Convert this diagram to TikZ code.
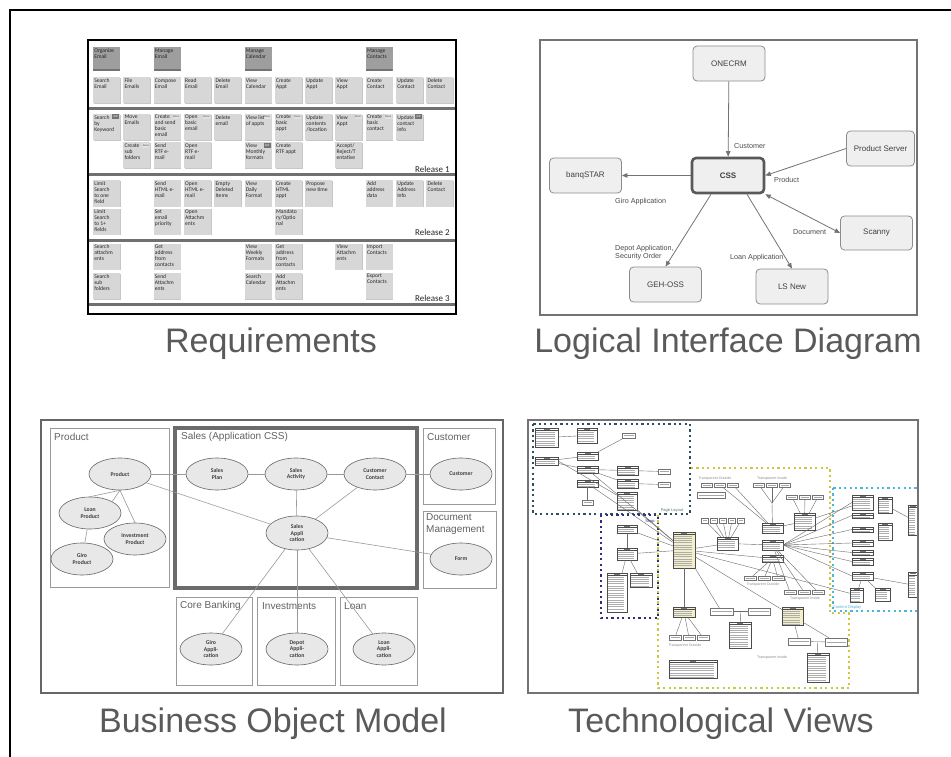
\documentclass[tikz,border=0pt]{standalone}
\usepackage{fontspec}
\setmainfont{Liberation Sans}
\newfontfamily\calib{Carlito}
\usetikzlibrary{arrows.meta,calc,shapes.geometric}

\definecolor{capgray}{HTML}{5A5A5A}
\definecolor{cardfill}{HTML}{D7D7D7}
\definecolor{epicfill}{HTML}{9E9E9E}
\definecolor{sepgray}{HTML}{707070}
\definecolor{boxfill}{HTML}{EFEFEF}
\definecolor{boxline}{HTML}{8C8C8C}
\definecolor{ellfill}{HTML}{E8E8E8}
\definecolor{grpline}{HTML}{9A9A9A}
\definecolor{zoneteal}{HTML}{2F4F5E}
\definecolor{zonenavy}{HTML}{2E2E7E}
\definecolor{zoneolive}{HTML}{C9C83E}
\definecolor{zonesky}{HTML}{4DB4DB}
\definecolor{mainfill}{HTML}{F3EFCB}

\tikzset{
  captxt/.style={font=\fontsize{34}{40}\selectfont, text=capgray, inner sep=0pt, anchor=base},
  card/.style={fill=cardfill, minimum width=27pt, minimum height=26pt, inner sep=0pt,
    preaction={fill=black!22, transform canvas={xshift=0.7pt,yshift=-0.9pt}}},
  epic/.style={fill=epicfill, minimum width=27pt, minimum height=24pt, inner sep=0pt,
    path picture={\fill[black!55] ([yshift=2pt]path picture bounding box.south west) rectangle (path picture bounding box.south east);}},
  cardtxt/.style={anchor=north west, inner sep=1.3pt, align=left, text=black!85,
    font=\calib\fontsize{5.6}{6}\selectfont},
  tagbox/.style={inner sep=0pt, minimum width=7pt, minimum height=4.6pt,
    font=\calib\fontsize{2.8}{3}\selectfont},
  donetag/.style={tagbox, fill=black!12, text=black!70},
  wiptag/.style={tagbox, fill=black!55, text=white},
  sepline/.style={draw=sepgray, line width=3pt},
  reltxt/.style={font=\calib\fontsize{9}{10}\selectfont, text=black!85, inner sep=0pt, anchor=east},
  lbox/.style={draw=boxline, fill=boxfill, rounded corners=4pt, minimum width=72pt,
    minimum height=35pt, line width=0.8pt, font=\fontsize{8}{9}\selectfont, text=black!75},
  cssbox/.style={lbox, draw=black!65, line width=2.6pt, font=\bfseries\fontsize{8}{9}\selectfont},
  larr/.style={draw=black!55, line width=0.8pt, -{Triangle[length=5.5pt,width=4.5pt]}},
  lbl/.style={font=\fontsize{7.2}{8.4}\selectfont, text=black!70, inner sep=0pt, anchor=west, align=left},
  grp/.style={draw=grpline, line width=0.9pt},
  grplbl/.style={font=\fontsize{10}{12}\selectfont, text=black!62, inner sep=0pt, anchor=west, align=left},
  ell/.style={ellipse, draw=black!60, fill=ellfill, minimum width=62pt, minimum height=32pt,
    inner sep=0pt, line width=0.6pt, align=center, text=black!75,
    font=\calib\bfseries\fontsize{5.8}{6.8}\selectfont},
  bline/.style={draw=black!40, line width=0.6pt},
  cls/.style={draw=black!70, fill=white, line width=0.35pt, inner sep=0pt,
    path picture={
      \draw[line width=0.3pt, black!70] ([yshift=-2.3pt]path picture bounding box.north west) -- ([yshift=-2.3pt]path picture bounding box.north east);
      \draw[black!55, line width=0.5pt] ([xshift=-3pt,yshift=-1.15pt]path picture bounding box.north) -- ([xshift=3pt,yshift=-1.15pt]path picture bounding box.north);
      \foreach \k in {0,...,14}
        \draw[black!32, line width=0.45pt] ([xshift=1.3pt,yshift={-3.8-2.3*\k}]path picture bounding box.north west) -- ([xshift=-3.5pt,yshift={-3.8-2.3*\k}]path picture bounding box.north east);
    }},
  sbox/.style={draw=black!55, fill=white, line width=0.35pt, inner sep=0pt,
    path picture={\draw[black!35, line width=0.45pt] ([xshift=1.5pt]path picture bounding box.west) -- ([xshift=-1.5pt]path picture bounding box.east);}},
  tline/.style={draw=black!58, line width=0.4pt},
  zonedash/.style={dash pattern=on 2.2pt off 3.2pt, line width=1.7pt},
  tinytxt/.style={font=\fontsize{3.6}{4}\selectfont, text=black!45, inner sep=0pt},
}

% sticky notes of the story map: name, column, row height, text
\newcommand\pcard[4]{\node[card, label={[cardtxt]north west:{#4}}] (#1) at ({106.5+30.3*(#2-1)},#3) {};}
\newcommand\ecard[4]{\node[epic, label={[cardtxt]north west:{#4}}] (#1) at ({106.5+30.3*(#2-1)},#3) {};}
\newcommand\ptag[3]{\node[#3] (#1-tag) at ([xshift=-4.6pt,yshift=-3pt]#1.north east) {#2};}
% class boxes of the technical view
\newcommand\tbox[6][]{\node[cls,minimum width=#5pt,minimum height=#6pt,#1] (#2) at (#3,#4) {};}
\newcommand\sbx[5]{\node[sbox,minimum width=#4pt,minimum height=#5pt] (#1) at (#2,#3) {};}

\begin{document}
\begin{tikzpicture}[x=1pt,y=-1pt]
\useasboundingbox (0,0) rectangle (951,757);
\fill[white] (0,0) rectangle (951,757);
\draw[line width=2pt] (10,758) -- (10,10) -- (952,10);

% ================= Requirements (story map) =================
\draw[line width=2pt] (88,40) rectangle (456,314);
\foreach \sy in {109,175,240,304} \draw[sepline] (89,\sy) -- (455,\sy);

\ecard{e1}{1}{59.5}{Organize\\Email}
\ecard{e3}{3}{59.5}{Manage\\Email}
\ecard{e6}{6}{59.5}{Manage\\Calendar}
\ecard{e10}{10}{59.5}{Manage\\Contacts}

\pcard{a1}{1}{90.5}{Search\\Email}
\pcard{a2}{2}{90.5}{File\\Emails}
\pcard{a3}{3}{90.5}{Compose\\Email}
\pcard{a4}{4}{90.5}{Read\\Email}
\pcard{a5}{5}{90.5}{Delete\\Email}
\pcard{a6}{6}{90.5}{View\\Calendar}
\pcard{a7}{7}{90.5}{Create\\Appt}
\pcard{a8}{8}{90.5}{Update\\Appt}
\pcard{a9}{9}{90.5}{View\\Appt}
\pcard{a10}{10}{90.5}{Create\\Contact}
\pcard{a11}{11}{90.5}{Update\\Contact}
\pcard{a12}{12}{90.5}{Delete\\Contact}

\pcard{b1}{1}{127}{Search\\by\\Keyword}
\pcard{b2}{2}{127}{Move\\Emails}
\pcard{b3}{3}{127}{Create\\and send\\basic\\email}
\pcard{b4}{4}{127}{Open\\basic\\email}
\pcard{b5}{5}{127}{Delete\\email}
\pcard{b6}{6}{127}{View list\\of appts}
\pcard{b7}{7}{127}{Create\\basic\\appt}
\pcard{b8}{8}{127}{Update\\contents\\/location}
\pcard{b9}{9}{127}{View\\Appt}
\pcard{b10}{10}{127}{Create\\basic\\contact}
\pcard{b11}{11}{127}{Update\\contact\\info}

\pcard{c2}{2}{155.5}{Create\\sub\\folders}
\pcard{c3}{3}{155.5}{Send\\RTF e-\\mail}
\pcard{c4}{4}{155.5}{Open\\RTF e-\\mail}
\pcard{c6}{6}{155.5}{View\\Monthly\\formats}
\pcard{c7}{7}{155.5}{Create\\RTF appt}
\pcard{c9}{9}{155.5}{Accept/\\Reject/T\\entative}

\ptag{b1}{WIP}{wiptag}
\ptag{b3}{Done}{donetag}
\ptag{b4}{Done}{donetag}
\ptag{b6}{Done}{donetag}
\ptag{b7}{Done}{donetag}
\ptag{b9}{Done}{donetag}
\ptag{b10}{Done}{donetag}
\ptag{b11}{WIP}{wiptag}
\ptag{c2}{Done}{donetag}
\ptag{c6}{WIP}{wiptag}

\pcard{d1}{1}{193.5}{Limit\\Search\\to one\\field}
\pcard{d3}{3}{193.5}{Send\\HTML e-\\mail}
\pcard{d4}{4}{193.5}{Open\\HTML e-\\mail}
\pcard{d5}{5}{193.5}{Empty\\Deleted\\Items}
\pcard{d6}{6}{193.5}{View\\Daily\\Format}
\pcard{d7}{7}{193.5}{Create\\HTML\\appt}
\pcard{d8}{8}{193.5}{Propose\\new time}
\pcard{d10}{10}{193.5}{Add\\address\\data}
\pcard{d11}{11}{193.5}{Update\\Address\\Info}
\pcard{d12}{12}{193.5}{Delete\\Contact}

\pcard{f1}{1}{221.5}{Limit\\Search\\to 1+\\fields}
\pcard{f3}{3}{221.5}{Set\\email\\priority}
\pcard{f4}{4}{221.5}{Open\\Attachm\\ents}
\pcard{f7}{7}{221.5}{Mandato\\ry/Optio\\nal}

\pcard{g1}{1}{256.5}{Search\\attachm\\ents}
\pcard{g3}{3}{256.5}{Get\\address\\from\\contacts}
\pcard{g6}{6}{256.5}{View\\Weekly\\Formats}
\pcard{g7}{7}{256.5}{Get\\address\\from\\contacts}
\pcard{g9}{9}{256.5}{View\\Attachm\\ents}
\pcard{g10}{10}{256.5}{Import\\Contacts}

\pcard{h1}{1}{286}{Search\\sub\\folders}
\pcard{h3}{3}{286}{Send\\Attachm\\ents}
\pcard{h6}{6}{286}{Search\\Calendar}
\pcard{h7}{7}{286}{Add\\Attachm\\ents}
\pcard{h10}{10}{286}{Export\\Contacts}

\node[reltxt] (rel1) at (450,169.5) {Release 1};
\node[reltxt] (rel2) at (450,232) {Release 2};
\node[reltxt] (rel3) at (450,298) {Release 3};

\node[captxt] (capreq) at (271,352) {Requirements};

% ================= Logical interface diagram =================
\draw[draw=black!55, line width=1.8pt] (540,40) rectangle (917,315);
\node[lbox] (onecrm) at (729,63.5) {ONECRM};
\node[cssbox] (css) at (728,175.5) {CSS};
\node[lbox] (banq) at (585.5,175.5) {banqSTAR};
\node[lbox, minimum width=68pt] (pserver) at (880.5,148.5) {Product Server};
\node[lbox, minimum height=34pt] (scanny) at (876.5,233) {Scanny};
\node[lbox] (geh) at (665.5,284.5) {GEH-OSS};
\node[lbox] (lsnew) at (792,286.5) {LS New};

\draw[larr] (onecrm) -- (css);
\draw[larr] (pserver.west) -- (css.east);
\draw[larr] (css) -- (banq);
\draw[larr, {Triangle[length=5.5pt,width=4.5pt]}-{Triangle[length=5.5pt,width=4.5pt]}] (css.south east) -- (scanny.west);
\draw[larr] ([xshift=-17pt]css.south) -- (geh.north);
\draw[larr] ([xshift=19pt]css.south) -- (lsnew.north);

\node[lbl] (lcust) at (734,146) {Customer};
\node[lbl] (lprod) at (774,180) {Product};
\node[lbl] (lgiro) at (615,202) {Giro Application};
\node[lbl] (ldoc) at (793,232) {Document};
\node[lbl, anchor=north west] (ldepot) at (615,245) {Depot Application,\\Security Order};
\node[lbl] (lloan) at (730,258) {Loan Application};

\node[captxt] (caplog) at (728,352) {Logical Interface Diagram};

% ================= Business object model =================
\draw[draw=black!60, line width=1.8pt] (41,420) rectangle (503,693);
\draw[grp] (50,428) rectangle (169,587);
\draw[draw=black!58, line width=3.6pt] (175,428) rectangle (417,588);
\draw[grp] (423,428) rectangle (495,504);
\draw[grp] (423,511) rectangle (496,588);
\draw[grp] (176,597) rectangle (252,685);
\draw[grp] (257,597) rectangle (335,685);
\draw[grp] (340,597) rectangle (417,685);

\node[grplbl] (gprod) at (54,437) {Product};
\node[grplbl] (gsales) at (181,437) {Sales (Application CSS)};
\node[grplbl] (gcust) at (427,437) {Customer};
\node[grplbl, anchor=north west] (gdoc) at (426,513) {Document\\Management};
\node[grplbl] (gcore) at (180,606) {Core Banking};
\node[grplbl] (ginv) at (262,606) {Investments};
\node[grplbl] (gloan) at (344,606) {Loan};

\node[ell] (prod) at (120,474) {Product};
\node[ell] (loanp) at (90,513) {Loan\\Product};
\node[ell] (invp) at (135,539) {Investment\\Product};
\node[ell] (girop) at (82,559) {Giro\\Product};
\node[ell] (splan) at (217,474) {Sales\\Plan};
\node[ell] (sact) at (296,474) {Sales\\Activity};
\node[ell] (ccont) at (375,474) {Customer\\Contact};
\node[ell] (cust) at (461,474) {Customer};
\node[ell, minimum height=34pt] (sapp) at (297,533) {Sales\\Appli\\cation};
\node[ell] (form) at (461,559) {Form};
\node[ell] (giroa) at (211,649) {Giro\\Appli-\\cation};
\node[ell] (depa) at (297,649) {Depot\\Appli-\\cation};
\node[ell] (loana) at (384,649) {Loan\\Appli-\\cation};

\draw[bline] (prod) -- (splan);
\draw[bline] (prod) -- (sapp);
\draw[bline] (prod.south) -- (loanp.north);
\draw[bline] (prod.south) -- (loanp.north east);
\draw[bline] (prod.south) -- (invp.north);
\draw[bline] (loanp) -- (girop);
\draw[bline] (splan) -- (sact);
\draw[bline] (sact) -- (ccont);
\draw[bline] (ccont) -- (cust);
\draw[bline] (sact) -- (sapp);
\draw[bline] (ccont) -- (sapp);
\draw[bline] (sapp) -- (form);
\draw[bline] (sapp) -- (giroa);
\draw[bline] (sapp) -- (depa);
\draw[bline] (sapp) -- (loana);

\node[captxt] (capbom) at (273,732) {Business Object Model};

% ================= Technological views =================
\begin{scope}
\clip (529,421) rectangle (918,692);
% zones
\draw[zonedash, zoneteal] (533,424) rectangle (690,514);
\draw[zonedash, zonenavy] (601,515) rectangle (658,618);
\draw[zonedash, zoneolive] (658,515) -- (658,688) -- (849,688) -- (849,613) -- (830,613) -- (830,468) -- (690,468);
\draw[zonedash, zonesky] (833,488) rectangle (930,611);

% page layout zone
\tbox{ta}{546.5}{437.5}{23}{19}
\tbox{tb}{587}{435.5}{20}{15}
\sbx{tc}{628.5}{435.5}{13}{5}
\tbox{td}{546.5}{461}{23}{8}
\tbox{te}{587.5}{456}{21}{8}
\tbox{tf}{587.5}{469.5}{21}{7}
\tbox{tg}{587.5}{483.5}{21}{7}
\sbx{th}{587.5}{502.5}{11}{5}
\tbox{ti}{627.5}{470.5}{21}{9}
\tbox{tj}{627.5}{483.5}{21}{9}
\tbox{tk}{627}{501}{20}{18}
\sbx{tl}{664}{471.5}{12}{5}
\sbx{tm}{664}{484.5}{12}{5}
% shop zone
\tbox{tn}{627}{529}{20}{8}
\tbox{to}{627}{554}{20}{12}
\tbox{tp}{617}{592.5}{20}{39}
\tbox{tq}{641}{580}{22}{14}
% central zone
\tbox[fill=mainfill]{tmain}{684}{550}{22}{36}
\tbox{tr}{727.5}{543.5}{21}{13}
\tbox{tt}{772.5}{528}{21}{10}
\tbox{tu}{772.5}{545}{21}{10}
\tbox{tv}{772.5}{558.5}{21}{7}
\tbox{tw}{804.5}{521.5}{21}{17}
\foreach \i/\xx in {1/705,2/714,3/723,4/732,5/741} {\sbx{ts\i}{\xx}{520.5}{7}{5}}
\foreach \i/\xx in {1/707,2/720,3/733} {\sbx{tx\i}{\xx}{485}{11}{4}}
\foreach \i/\xx in {1/759,2/772,3/785} {\sbx{ty\i}{\xx}{485}{11}{4}}
\foreach \i/\xx in {1/792,2/805,3/818} {\sbx{tz\i}{\xx}{497}{11}{4}}
\sbx{tnote1}{711}{495}{28}{6}
\tbox[fill=mainfill]{tbot}{684}{612}{22}{10}
\foreach \i/\xx in {1/675,2/689,3/703} {\sbx{tbot\i}{\xx}{637.5}{12}{5}}
\sbx{tyy}{721.5}{611.5}{23}{7}
\sbx{tzz}{759}{611.5}{22}{7}
\tbox{tnote2}{740}{635}{22}{26}
\tbox[fill=mainfill]{taa}{792.5}{616}{21}{18}
\sbx{tab}{799}{641.5}{22}{7}
\sbx{tac}{836}{642}{22}{8}
\tbox{tnote3}{818}{667.5}{22}{29}
\tbox{tnote4}{693}{669}{48}{18}
\foreach \i/\xx in {1/750,2/764,3/778} {\sbx{tpp\i}{\xx}{578.5}{12}{4}}
\foreach \i/\xx in {1/790,2/804,3/818} {\sbx{tqq\i}{\xx}{592}{12}{4}}
% content display zone
\tbox{bl1}{862.5}{502.5}{21}{15}
\tbox{bl2}{862.5}{515.5}{21}{5}
\tbox{bl3}{862.5}{529.5}{21}{5}
\tbox{bl4}{862.5}{543}{21}{6}
\tbox{bl5}{862.5}{552.5}{21}{5}
\tbox{bl6}{862.5}{561.5}{21}{7}
\tbox{bl7}{862.5}{576}{21}{8}
\tbox{bl8}{856.5}{595}{13}{14}
\tbox{bl9}{882.5}{594.5}{15}{13}
\tbox{bl10}{885}{505}{14}{16}
\tbox{bl11}{885}{531.5}{14}{17}
\tbox{bl12}{913}{520}{10}{30}
\tbox{bl13}{913}{585}{10}{25}

% associations
\draw[tline] (ta) -- (tb);
\draw[tline] (te.north east) -- (tc);
\draw[tline] (td) -- (te);
\draw[tline] (td) -- (tf);
\draw[tline] (tf) -- (ti);
\draw[tline] (ti) -- (tl);
\draw[tline] (tj) -- (tm);
\draw[tline] (tf) -- (tj);
\draw[tline] (tg) -- (th);
\draw[tline] (td.east) -- (tk);
\draw[tline] (tf) -- (tmain);
\draw[tline] (tg) -- (tmain);
\draw[tline] (tk) -- (tmain);
\draw[tline] (tn) -- (tmain);
\draw[tline] (to) -- (tmain);
\draw[tline] (tn) -- (to);
\draw[tline] (to) -- (tp);
\draw[tline] (to) -- (tq);
\draw[tline] (tmain) -- (tr);
\foreach \i in {1,...,5} \draw[tline] (tr) -- (ts\i);
\draw[tline] (tr) -- (tu);
\draw[tline] (tt) -- (tw);
\foreach \i in {1,2,3} \draw[tline] (tw) -- (tz\i);
\coordinate (jy) at (772,503);
\draw[tline] (tt) -- (jy);
\foreach \i in {1,2,3} \draw[tline] (jy) -- (ty\i);
\draw[tline] (tx2) -- (tt);
\draw[tline] (tx3) -- (tt);
\foreach \i in {1,...,7} \draw[tline] (tu.east) -- (bl\i.west);
\draw[tline] (tw) -- (bl1);
\draw[tline] (tmain) -- (tv);
\draw[tline] (tmain) -- (bl8);
\draw[tline] (tmain) -- (taa);
\draw[tline] (tmain) -- (tyy);
\draw[tline] (tmain) -- (tbot);
\foreach \i in {1,2,3} \draw[tline] (tbot) -- (tbot\i);
\draw[tline] (tyy) -- (tzz);
\coordinate (jn2) at ($(tyy.east)!0.5!(tzz.west)$);
\draw[tline] (jn2) -- (tnote2);
\draw[tline] (taa) -- (tab);
\draw[tline] (taa) -- (tac);
\draw[tline] (tab) -- (tac);
\coordinate (jn3) at ($(tab.east)!0.5!(tac.west)$);
\draw[tline] (jn3) -- (tnote3);
\foreach \i in {1,2,3} \draw[tline] (tv) -- (tpp\i);
\foreach \i in {1,2,3} \draw[tline] (tu) -- (tqq\i);
\draw[tline] (bl7) -- (bl8);
\draw[tline] (bl7) -- (bl9);
\draw[tline] (bl7) -- (bl13);
\draw[tline] (bl10) -- (bl12);

% zone and grouping captions
\node[tinytxt] (tt1) at (715,479) {Transparent Outside};
\node[tinytxt] (tt2) at (772,479) {Transparent Inside};
\node[tinytxt] (tt3) at (763,585) {Transparent Outside};
\node[tinytxt] (tt4) at (805,599) {Transparent Inside};
\node[tinytxt] (tt5) at (685,646) {Transparent Outside};
\node[tinytxt] (tt6) at (772,658) {Transparent Inside};
\node[tinytxt, text=zoneteal!80, font=\fontsize{4}{5}\selectfont] (zpl) at (672,511) {Page Layout};
\node[tinytxt, text=zonenavy, font=\fontsize{4}{5}\selectfont] (zsh) at (650,521) {Shop};
\node[tinytxt, text=zonesky, font=\fontsize{4}{5}\selectfont] (zcd) at (847,607) {Content Display};
\end{scope}
\draw[draw=black!55, line width=1.8pt] (528,420) rectangle (918,693);

\node[captxt] (captech) at (721,732) {Technological Views};
\end{tikzpicture}
\end{document}
